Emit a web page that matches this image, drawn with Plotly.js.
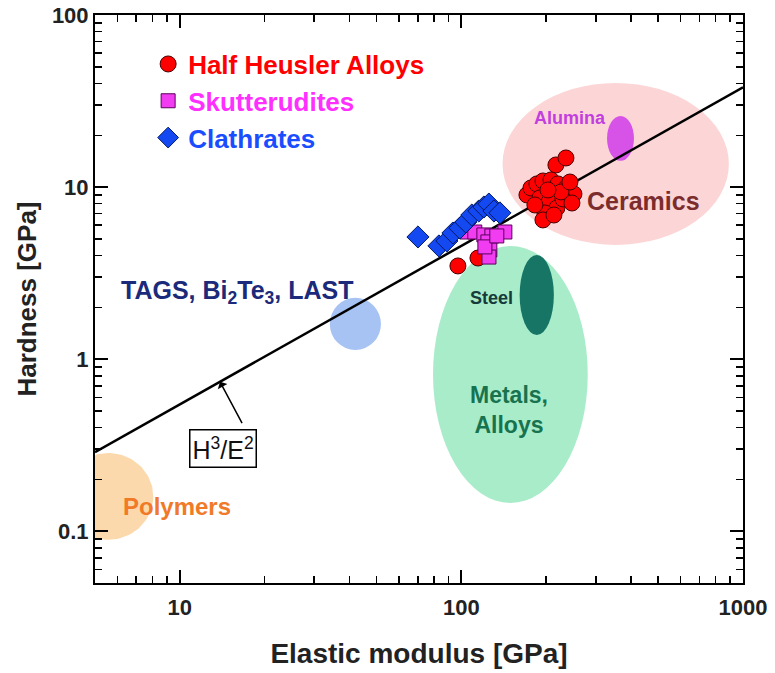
<!DOCTYPE html>
<html>
<head>
<meta charset="utf-8">
<script src="https://cdn.plot.ly/plotly-3.0.1.min.js"></script>
<style>html,body{margin:0;padding:0;background:#fff}</style>
</head>
<body>
<div id="chart" style="width:775px;height:673px"></div>
<script>
// Data (GPa)
var hhX = [97.2,114.5,216.6,235.1,170.9,176.6,185.4,194.8,208.0,220.2,235.1,251.0,190.1,204.6,218.4,198.0,229.4,246.9,194.8,213.1,182.4,225.7,203.0,242.9];
var hhY = [3.48,3.87,13.44,14.76,9.00,9.88,10.43,10.85,11.0,10.43,9.88,9.12,8.65,8.19,7.56,7.07,8.53,8.08,6.44,6.88,7.87,9.37,9.62,10.70];
var skX = [104.6,111.6,120.2,128.3,142.7,124.2,126.2,125.3,121.2,133.6];
var skY = [5.48,5.48,5.27,5.20,5.48,4.80,4.31,3.92,4.49,5.20];
var clX = [70.1,83.2,88.8,93.3,98.8,103.7,108.9,115.3,120.2,125.2,130.5,137.0];
var clY = [5.13,4.55,4.86,5.41,5.78,6.26,6.88,7.26,7.66,7.97,7.26,7.08];
var lineX = [5, 1000];
var lineY = [0.288, 38];
var xRange = [5, 1000];
var yRange = [0.05, 100];
// Property regions: [xmin, xmax, ymin, ymax]
var regPolymers = [3.85, 8.05, 0.0891, 0.285];
var regTags = [34.1, 51.8, 1.13, 2.27];
var regMetals = [79.3, 281, 0.146, 4.55];
var regSteel = [161, 213, 1.38, 4.03];
var regCeramics = [140, 891, 4.61, 40.3];
var regAlumina = [329, 410, 14.2, 25.9];
var arrowPoint = [13.9, 0.738];

var FONT = 'Liberation Sans, Arial, Helvetica, sans-serif';

function ell(r, color) {
  return {type:'circle', xref:'x', yref:'y', x0:r[0], x1:r[1], y0:r[2], y1:r[3],
    fillcolor:color, line:{width:0}, layer:'below'};
}
// Outline of a region (ellipse in log-log space), cut at the axis range
function regionOutline(r) {
  var cx = (Math.log10(r[0]) + Math.log10(r[1])) / 2, rx = (Math.log10(r[1]) - Math.log10(r[0])) / 2;
  var cy = (Math.log10(r[2]) + Math.log10(r[3])) / 2, ry = (Math.log10(r[3]) - Math.log10(r[2])) / 2;
  var xs = [], ys = [];
  for (var i = 0; i <= 120; i++) {
    var t = i / 120 * 2 * Math.PI;
    xs.push(Math.max(xRange[0], Math.pow(10, cx + rx * Math.cos(t))));
    ys.push(Math.max(yRange[0], Math.pow(10, cy + ry * Math.sin(t))));
  }
  return {x:xs, y:ys};
}
var poly = regionOutline(regPolymers);

var traces = [
  {x:poly.x, y:poly.y, mode:'lines', fill:'toself', fillcolor:'#fcd9ad', line:{width:0, color:'rgba(0,0,0,0)'},
   showlegend:false, hoverinfo:'skip'},
  {x:lineX, y:lineY, mode:'lines', line:{color:'#000', width:2.5}, showlegend:false, hoverinfo:'skip'},
  {x:hhX, y:hhY, mode:'markers', name:'<span style="color:#ff0000">Half Heusler Alloys</span>', legendgroup:'a',
   marker:{symbol:'circle', size:16, color:'#ff0000', line:{color:'#4a0000', width:1}}},
  {x:skX, y:skY, mode:'markers', name:'<span style="color:#ff30ff">Skutterudites</span>', legendgroup:'b',
   marker:{symbol:'square', size:14, color:'#f23cf2', line:{color:'#5a005a', width:1}}},
  {x:clX, y:clY, mode:'markers', name:'<span style="color:#1a4dff">Clathrates</span>', legendgroup:'c',
   marker:{symbol:'diamond', size:17, color:'#1449f2', line:{color:'#001a66', width:1}}}
];

var axisCommon = {
  type:'log', showgrid:false, zeroline:false, showline:true, linecolor:'#000', linewidth:2,
  mirror:'allticks', ticks:'inside', ticklen:13, tickwidth:2, tickcolor:'#000',
  tickfont:{family:FONT, size:22, color:'#222', weight:'bold'},
  minor:{ticks:'inside', ticklen:7, tickwidth:1.5, tickcolor:'#000', dtick:'D1'}
};

function lbl(x, y, text, size, color, extra) {
  return Object.assign({xref:'paper', yref:'paper', x:x, y:y, text:text, showarrow:false,
    xanchor:'center', yanchor:'middle', font:{family:FONT, size:size, color:color, weight:'bold'}}, extra || {});
}
function px2paperX(p) { return (p - 95) / 648; }
function px2paperY(p) { return (583 - p) / 568; }

var layout = {
  width:775, height:673,
  margin:{l:95, r:32, t:15, b:90},
  paper_bgcolor:'#fff', plot_bgcolor:'#fff',
  showlegend:true,
  legend:{x:0.082, y:0.955, xanchor:'left', yanchor:'top', bgcolor:'rgba(0,0,0,0)',
    font:{family:FONT, size:26, weight:'bold'}, traceorder:'grouped', tracegroupgap:0},
  xaxis:Object.assign({}, axisCommon, {range:[Math.log10(xRange[0]), Math.log10(xRange[1])],
    tickvals:[10,100,1000], ticktext:['10','100','1000'], ticklabelstandoff:4,
    title:{text:'Elastic modulus [GPa]', font:{family:FONT, size:28, color:'#222', weight:'bold'}, standoff:24}}),
  yaxis:Object.assign({}, axisCommon, {range:[Math.log10(yRange[0]), Math.log10(yRange[1])],
    tickvals:[0.1,1,10,100], ticktext:['0.1','1','10','100'],
    title:{text:'Hardness [GPa]', font:{family:FONT, size:26, color:'#222', weight:'bold'}, standoff:8}}),
  shapes:[
    ell(regCeramics, '#fcd6d6'),
    ell(regAlumina, '#d752e6'),
    ell(regMetals, '#a9ecc9'),
    ell(regSteel, '#177566'),
    ell(regTags, '#a7c3f4')
  ],
  annotations:[
    lbl(px2paperX(570), px2paperY(118), 'Alumina', 18, '#c23ede'),
    lbl(px2paperX(643), px2paperY(201), 'Ceramics', 25, '#7b2d2d'),
    lbl(px2paperX(492), px2paperY(298), 'Steel', 18, '#143c3c'),
    lbl(px2paperX(509), px2paperY(410), 'Metals,<br>Alloys', 23, '#17734f'),
    lbl(px2paperX(237), px2paperY(292), 'TAGS, Bi<sub>2</sub>Te<sub>3</sub>, LAST', 25, '#1b2a7a'),
    lbl(px2paperX(177), px2paperY(506), 'Polymers', 24, '#f07a28'),
    {xref:'x', yref:'y', x:Math.log10(arrowPoint[0]), y:Math.log10(arrowPoint[1]), text:' ', showarrow:true,
     ax:25, ay:47, arrowhead:1, arrowsize:1.2, arrowwidth:1.5, arrowcolor:'#000', standoff:0, startstandoff:0},
    lbl(px2paperX(223), px2paperY(448), 'H<sup>3</sup>/E<sup>2</sup>', 25, '#111',
      {bordercolor:'#000', borderwidth:1.5, borderpad:2, bgcolor:'#fff', font:{family:FONT, size:25, color:'#111'}})
  ]
};

Plotly.newPlot('chart', traces, layout, {displayModeBar:false, staticPlot:true});
</script>
</body>
</html>
